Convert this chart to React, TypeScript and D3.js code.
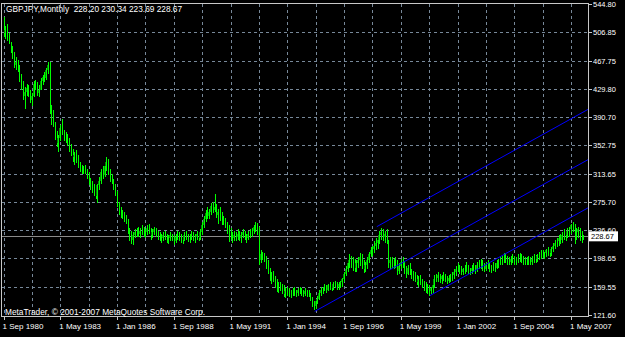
import React from "react";
import * as d3 from "d3";

// ---- data (monthly GBPJPY, Sep 1980 .. Dec 2007) ----
const firstOpen = 520;

const closes: number[] = [
  505, 510, 498, 494,
  482, 474, 462, 466, 456, 442, 432, 420, 425, 430, 424, 414,
  420, 436, 432, 424, 428, 440, 446, 444, 455, 462, 398, 392,
  382, 366, 356, 362, 376, 370, 364, 366, 356, 350, 342, 336,
  340, 332, 326, 322, 318, 320, 316, 310, 302, 296, 294, 288,
  284, 298, 304, 316, 312, 324, 330, 316, 306, 304, 296, 288,
  272, 262, 258, 256, 252, 250, 236, 228, 224, 230, 234, 236,
  232, 236, 238, 232, 234, 240, 236, 230, 234, 238, 232, 228,
  228, 226, 230, 228, 224, 226, 230, 226, 222, 228, 230, 226,
  226, 224, 230, 228, 226, 228, 230, 226, 228, 232, 226, 234,
  244, 252, 260, 256, 262, 270, 264, 268, 258, 262, 254, 248,
  250, 244, 236, 230, 228, 226, 230, 228, 232, 226, 230, 234,
  228, 226, 232, 234, 236, 242, 244, 240, 196, 204, 200, 198,
  190, 182, 174, 176, 170, 162, 158, 160, 158, 156, 150, 154,
  156, 150, 152, 154, 150, 152, 156, 154, 152, 150, 154, 152,
  150, 144, 136, 134, 140, 144, 152, 156, 158, 160, 156, 162,
  162, 158, 164, 162, 160, 164, 166, 170, 178, 184, 192, 196,
  198, 190, 186, 192, 196, 200, 188, 184, 190, 196, 204, 210,
  212, 216, 220, 224, 230, 234, 228, 232, 222, 192, 196, 192,
  194, 190, 182, 188, 194, 190, 182, 178, 186, 180, 174, 176,
  170, 166, 170, 164, 162, 160, 158, 156, 154, 158, 162, 170,
  172, 176, 170, 174, 176, 170, 168, 172, 174, 176, 180, 184,
  186, 184, 180, 184, 186, 188, 182, 182, 186, 188, 184, 190,
  190, 192, 186, 184, 190, 188, 184, 186, 188, 186, 192, 194,
  196, 198, 200, 198, 196, 194, 198, 200, 196, 198, 200, 202,
  198, 196, 194, 196, 198, 194, 198, 200, 198, 202, 204, 206,
  204, 206, 210, 208, 206, 212, 216, 220, 222, 226, 224, 230,
  232, 230, 236, 238, 244, 240, 232, 234, 238, 226, 228.2, 228.67,
];

const highs: number[] = [
  527, 515, 518, 505,
  493, 488, 480, 472, 468, 462, 450, 440, 432, 436, 434, 428,
  424, 440, 442, 438, 434, 444, 448, 452, 458, 466, 466, 408,
  400, 384, 372, 366, 380, 388, 374, 370, 368, 362, 354, 348,
  344, 346, 340, 330, 326, 324, 326, 320, 316, 308, 304, 300,
  294, 300, 310, 320, 324, 328, 337, 334, 320, 314, 306, 300,
  290, 276, 268, 264, 262, 258, 252, 240, 236, 234, 238, 240,
  242, 240, 244, 242, 238, 244, 246, 240, 238, 242, 240, 236,
  234, 232, 234, 236, 232, 230, 234, 232, 230, 232, 236, 234,
  232, 230, 234, 236, 232, 232, 236, 234, 232, 236, 234, 238,
  248, 256, 264, 268, 266, 274, 276, 286, 272, 266, 268, 262,
  256, 254, 248, 244, 240, 234, 236, 234, 238, 236, 234, 238,
  236, 232, 236, 238, 240, 244, 248, 247, 242, 210, 208, 206,
  202, 196, 186, 180, 182, 174, 170, 166, 166, 164, 162, 158,
  160, 158, 156, 158, 160, 156, 158, 160, 158, 156, 158, 156,
  156, 152, 146, 140, 142, 148, 156, 160, 160, 164, 162, 164,
  166, 164, 166, 168, 166, 166, 168, 172, 180, 188, 196, 204,
  202, 200, 198, 196, 200, 206, 204, 196, 194, 200, 208, 214,
  216, 222, 226, 230, 236, 240, 238, 236, 238, 224, 200, 200,
  198, 200, 196, 192, 198, 200, 194, 188, 190, 192, 184, 182,
  180, 176, 174, 176, 170, 168, 166, 164, 162, 160, 166, 176,
  178, 180, 178, 176, 180, 178, 174, 176, 178, 180, 184, 188,
  192, 190, 188, 186, 190, 194, 190, 186, 190, 192, 190, 194,
  196, 198, 196, 192, 194, 196, 192, 190, 194, 192, 196, 198,
  200, 202, 206, 204, 202, 200, 202, 204, 202, 200, 204, 206,
  204, 202, 200, 200, 202, 200, 202, 204, 203, 204, 208, 210,
  210, 208, 212, 214, 212, 214, 220, 224, 226, 230, 232, 234,
  238, 236, 240, 242, 246, 248, 246, 240, 242, 240, 236, 230.34,
];

const lows: number[] = [
  500, 497, 495, 490,
  478, 470, 458, 455, 452, 438, 428, 414, 402, 420, 418, 410,
  406, 418, 428, 420, 418, 428, 434, 438, 442, 450, 395, 380,
  378, 360, 350, 343, 358, 366, 358, 355, 352, 344, 338, 330,
  326, 328, 322, 316, 314, 313, 314, 306, 298, 292, 288, 284,
  280, 274, 292, 300, 306, 310, 318, 312, 302, 300, 292, 284,
  268, 258, 254, 252, 248, 246, 232, 222, 218, 217, 226, 228,
  228, 226, 230, 228, 226, 230, 232, 224, 226, 230, 228, 224,
  222, 220, 222, 224, 220, 218, 222, 222, 217, 220, 224, 222,
  220, 218, 222, 224, 221, 220, 224, 222, 220, 224, 222, 224,
  230, 240, 248, 252, 252, 258, 260, 262, 254, 246, 250, 244,
  244, 240, 232, 221, 224, 220, 222, 222, 224, 222, 220, 226,
  224, 220, 224, 226, 228, 232, 234, 230, 190, 192, 196, 194,
  184, 178, 168, 164, 166, 158, 153, 152, 154, 150, 146, 145,
  148, 146, 145, 148, 148, 146, 148, 150, 147, 146, 148, 146,
  146, 140, 132, 128, 130, 136, 142, 148, 150, 154, 152, 154,
  156, 154, 156, 158, 156, 155, 158, 160, 166, 174, 180, 186,
  186, 182, 180, 180, 186, 188, 184, 179, 180, 184, 192, 200,
  202, 206, 210, 212, 218, 224, 222, 220, 218, 186, 184, 186,
  184, 186, 176, 178, 184, 186, 178, 172, 176, 176, 170, 168,
  166, 162, 160, 162, 158, 154, 152, 150, 148, 150, 152, 158,
  166, 166, 165, 164, 168, 166, 164, 165, 166, 168, 170, 174,
  180, 178, 176, 176, 178, 180, 178, 176, 178, 180, 178, 180,
  184, 184, 182, 180, 182, 184, 180, 179, 182, 180, 184, 186,
  190, 190, 192, 192, 190, 190, 190, 192, 190, 190, 192, 194,
  192, 190, 190, 189, 190, 190, 190, 192, 192, 194, 196, 198,
  199, 198, 200, 202, 200, 202, 208, 212, 214, 216, 218, 220,
  224, 222, 226, 228, 232, 234, 218, 224, 226, 222, 220, 223.69,
];

const priceTicks: number[] = [121.6, 159.55, 198.65, 236.6, 275.7, 313.65, 352.75, 390.7, 429.8, 467.75, 506.85, 544.8];
const timeTickIndex: number[] = [0, 32, 64, 96, 128, 160, 192, 224, 256, 288, 320];
const timeTickLabels: string[] = ["1 Sep 1980", "1 May 1983", "1 Jan 1986", "1 Sep 1988", "1 May 1991", "1 Jan 1994", "1 Sep 1996", "1 May 1999", "1 Jan 2002", "1 Sep 2004", "1 May 2007"];
const gridIndex: number[] = [0, 16, 32, 48, 64, 80, 96, 112, 128, 144, 160, 176, 192, 208, 224, 240, 256, 272, 288, 304, 320];

// pitchfork channel lines: start month index, start price, price change per month
const channelStartIndex: number[] = [210.5, 175.5, 240.5];
const channelStartPrice: number[] = [241.8, 126.5, 148.0];
const channelSlope = 1.34;

const title = "GBPJPY,Monthly  228.20 230.34 223.69 228.67";
const lastPrice = 228.67;
const copyright = "MetaTrader, \u00a9 2001-2007 MetaQuotes Software Corp.";

const W = 625, H = 337;
const plotL = 1.5, plotR = 588.5, plotT = 3.5, plotB = 316.5;
const FONT = "'Liberation Sans', Arial, sans-serif";

export default function App() {
  const x = d3.scaleLinear().domain([0, 320]).range([3.5, 571]);
  const y = d3.scaleLinear().domain([121.6, 544.8]).range([315, 4]);

  const bars = closes.map((c, i) => {
    const o = i === 0 ? firstOpen : closes[i - 1];
    return { i, o, c, h: highs[i], l: lows[i] };
  });

  const channel = channelStartIndex.map((si, k) => {
    const sp = channelStartPrice[k];
    const ei = 340;
    const ep = sp + (ei - si) * channelSlope;
    const line = d3.line<[number, number]>().x((d) => x(d[0])).y((d) => y(d[1]));
    return line([[si, sp], [ei, ep]]) as string;
  });

  const snap = (v: number) => Math.round(v) + 0.5;

  return (
    <svg width={W} height={H} style={{ position: "absolute", left: 0, top: 0, background: "#000" }} fontFamily={FONT}>
      <rect x={0} y={0} width={W} height={H} fill="#000" />
      <defs>
        <clipPath id="plot">
          <rect x={plotL} y={plotT} width={plotR - plotL} height={plotB - plotT} />
        </clipPath>
      </defs>
      {/* grid */}
      <g stroke="#778899" strokeWidth={1} strokeDasharray="3,3" shapeRendering="crispEdges">
        {priceTicks.slice(1, -1).map((p) => (
          <line key={"h" + p} x1={plotL} x2={plotR} y1={snap(y(p))} y2={snap(y(p))} />
        ))}
        {gridIndex.map((gi) => (
          <line key={"v" + gi} x1={snap(x(gi))} x2={snap(x(gi))} y1={plotT} y2={plotB} />
        ))}
      </g>
      {/* price line */}
      <line x1={plotL} x2={plotR} y1={snap(y(lastPrice))} y2={snap(y(lastPrice))} stroke="#8a8a8a" strokeWidth={1} shapeRendering="crispEdges" />
      <g clipPath="url(#plot)" shapeRendering="crispEdges">
        {bars.map((b) => {
          const cx = Math.round(x(b.i));
          const top = y(Math.max(b.o, b.c));
          const bot = y(Math.min(b.o, b.c));
          const up = b.c >= b.o;
          return (
            <g key={b.i}>
              {up && bot - top > 2 ? (
                <rect x={cx - 1} y={top} width={1} height={bot - top} fill="#008c00" />
              ) : null}
              <line x1={cx + 0.5} x2={cx + 0.5} y1={y(b.h)} y2={y(b.l)} stroke="#00ff00" strokeWidth={1} />
            </g>
          );
        })}
      </g>
      <g clipPath="url(#plot)">
        {channel.map((d, k) => (
          <path key={"c" + k} d={d} stroke="#0000ff" strokeWidth={1} fill="none" />
        ))}
      </g>
      {/* frame */}
      <rect x={plotL} y={plotT} width={plotR - plotL} height={plotB - plotT} fill="none" stroke="#c8c8c8" strokeWidth={1} shapeRendering="crispEdges" />
      {/* price axis */}
      {priceTicks.map((p) => (
        <g key={"p" + p}>
          <line x1={plotR} x2={plotR + 3} y1={snap(y(p))} y2={snap(y(p))} stroke="#c8c8c8" shapeRendering="crispEdges" />
          <text x={593} y={y(p) + 3} fill="#ffffff" fontSize={7.5}>{p.toFixed(2)}</text>
        </g>
      ))}
      <rect x={589} y={y(lastPrice) - 5} width={29} height={10} fill="#ffffff" />
      <text x={591} y={y(lastPrice) + 3} fill="#000000" fontSize={7.5}>{lastPrice.toFixed(2)}</text>
      {/* time axis */}
      {timeTickIndex.map((ti, k) => (
        <g key={"t" + ti}>
          <line x1={snap(x(ti))} x2={snap(x(ti))} y1={plotB} y2={plotB + 3} stroke="#c8c8c8" shapeRendering="crispEdges" />
          <text x={x(ti) - 1} y={329} fill="#ffffff" fontSize={8}>{timeTickLabels[k]}</text>
        </g>
      ))}
      <text x={6} y={12} fill="#ffffff" fontSize={8.3} style={{ whiteSpace: "pre" }}>{title}</text>
      <text x={5} y={314.5} fill="#ffffff" fontSize={8.3}>{copyright}</text>
    </svg>
  );
}
